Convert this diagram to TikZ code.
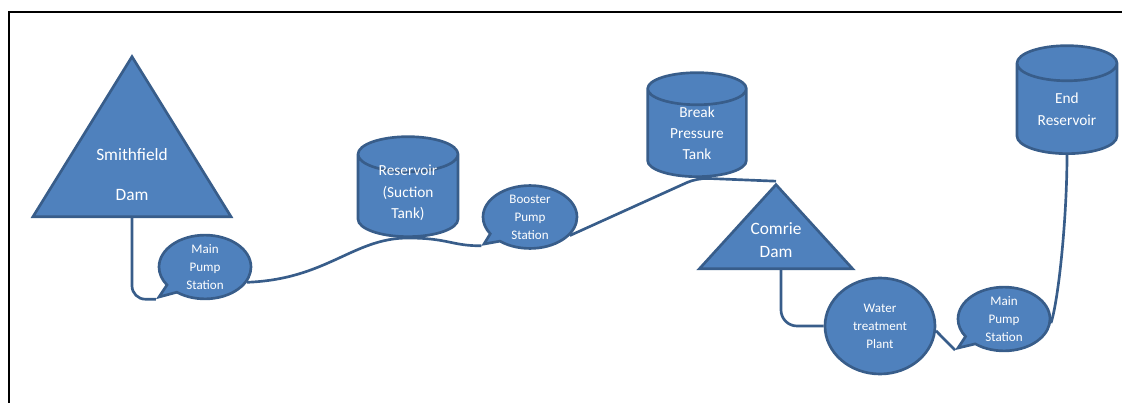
\documentclass[tikz,border=0pt]{standalone}
\usepackage{fontspec}
\setmainfont{Carlito}
\usetikzlibrary{calc, shapes.geometric, shapes.callouts}

\definecolor{tankfill}{HTML}{4F81BD}
\definecolor{tankline}{HTML}{385D8A}

\begin{document}
\begin{tikzpicture}[
        x=0.75pt, y=-0.75pt,
        tank/.style={
            cylinder,
            shape border rotate=90,
            aspect=0.6,
            draw=tankline,
            fill=tankfill,
            line width=2pt,
            text=white,
            align=center,
            inner sep=0pt,
            anchor=south,
            font=\fontsize{11.5}{16}\selectfont
        },
        dam/.style={
            isosceles triangle,
            shape border rotate=90,
            isosceles triangle stretches,
            draw=tankline,
            fill=tankfill,
            line width=2pt,
            inner sep=0pt,
            anchor=lower side
        },
        pump/.style={
            ellipse callout,
            callout pointer arc=18,
            draw=tankline,
            fill=tankfill,
            line width=2pt,
            text=white,
            align=center,
            inner sep=0pt,
            font=\fontsize{9.8}{13.5}\selectfont
        },
        plant/.style={
            ellipse,
            draw=tankline,
            fill=tankfill,
            line width=2pt,
            text=white,
            align=center,
            inner sep=0pt,
            font=\fontsize{9.8}{13.5}\selectfont
        },
        lbl/.style={text=white, align=center},
        pipe/.style={draw=tankline, line width=2pt}
    ]

    \useasboundingbox (0,0) rectangle (1122,403);
    \draw[line width=2.2pt] (1122,12) -- (9,12) -- (9,403);

    % dams
    \node[dam, minimum width=148.5pt, minimum height=120pt] (smith) at (132,218) {};
    \node[lbl, font=\fontsize{13}{30}\selectfont] (smithlbl) at (132,175) {Smithfield\\Dam};

    \node[dam, minimum width=114.75pt, minimum height=63pt] (comrie) at (776,270) {};
    \node[lbl, font=\fontsize{13}{17}\selectfont] (comrielbl) at (776,240) {Comrie\\Dam};

    % tanks
    \node[tank, minimum width=75pt, minimum height=75pt] (res) at (408,238) {\phantom{Reservoir}};
    \node[lbl, font=\fontsize{11.5}{16}\selectfont] (reslbl) at (408,193) {Reservoir\\(Suction\\Tank)};
    \node[tank, minimum width=74pt, minimum height=78pt] (bpt) at (697,178) {Break\\Pressure\\Tank};
    \node[tank, minimum width=75pt, minimum height=81pt] (endres) at (1067,155) {End\\Reservoir};

    % pumps and plant
    \node[pump, minimum width=69pt, minimum height=45pt,
          callout absolute pointer={(159,297)}] (mps1) at (205,267) {Main\\Pump\\Station};
    \node[pump, minimum width=70.5pt, minimum height=41pt,
          callout absolute pointer={(484,244)}] (boost) at (530,217) {Booster\\Pump\\Station};
    \node[pump, minimum width=69pt, minimum height=43.5pt,
          callout absolute pointer={(958,348)}] (mps2) at (1004,319) {Main\\Pump\\Station};
    \node[plant, minimum width=82.5pt, minimum height=72pt] (wtp) at (880,326) {Water\\treatment\\Plant};

    % pipeline
    \draw[pipe, rounded corners=10pt] (smith.lower side) |- (mps1.pointer);
    \draw[pipe] (mps1.-20) .. controls +(80,-3) and +(-55,0) .. (res.south)
        .. controls +(40,0) and +(-30,0) .. (boost.pointer);
    \draw[pipe, rounded corners=8pt] (boost.-25) -- (bpt.south) -- (comrie.apex);
    \draw[pipe, rounded corners=12pt] ($(comrie.lower side)+(5,0)$) |- (wtp.west);
    \draw[pipe] (wtp.-5) -- (mps2.pointer);
    \draw[pipe] (mps2.-5) .. controls +(8,-25) and +(0,60) .. (endres.south);

\end{tikzpicture}
\end{document}
